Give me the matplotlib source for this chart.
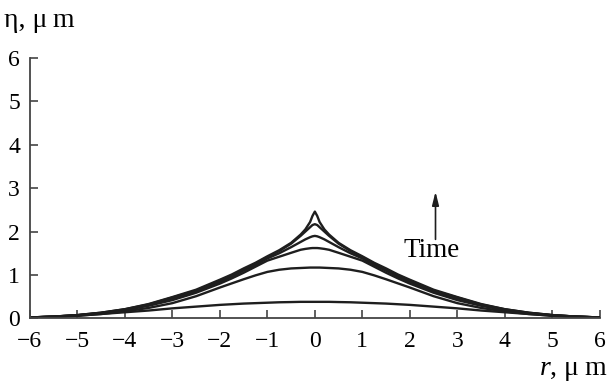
import matplotlib.pyplot as plt
import numpy as np

plt.rcParams["font.family"] = ["Liberation Serif", "DejaVu Serif"]
plt.rcParams["mathtext.fontset"] = "custom"
plt.rcParams["mathtext.rm"] = "Liberation Serif"
plt.rcParams["mathtext.it"] = "Liberation Serif:italic"

# half profiles eta(r) for r >= 0, the surface is axisymmetric
r_half = [0, 0.05, 0.1, 0.2, 0.3, 0.5, 0.75, 1, 1.25, 1.5, 1.75, 2, 2.5, 3, 3.5, 4, 4.5, 5, 5.5, 6]
eta_1 = [0.38, 0.38, 0.38, 0.38, 0.38, 0.375, 0.37, 0.36, 0.35, 0.34, 0.325, 0.31, 0.27, 0.23, 0.18, 0.14, 0.10, 0.06, 0.035, 0.02]
eta_2 = [1.17, 1.17, 1.17, 1.165, 1.16, 1.15, 1.12, 1.07, 0.99, 0.90, 0.805, 0.71, 0.51, 0.35, 0.24, 0.16, 0.10, 0.06, 0.035, 0.02]
eta_3 = [1.62, 1.62, 1.615, 1.60, 1.58, 1.51, 1.42, 1.33, 1.19, 1.05, 0.92, 0.80, 0.59, 0.42, 0.29, 0.19, 0.12, 0.07, 0.04, 0.02]
eta_4 = [1.90, 1.89, 1.87, 1.82, 1.76, 1.64, 1.50, 1.38, 1.23, 1.10, 0.96, 0.84, 0.62, 0.46, 0.31, 0.20, 0.12, 0.07, 0.04, 0.02]
eta_5 = [2.17, 2.15, 2.10, 2.00, 1.90, 1.72, 1.55, 1.41, 1.26, 1.13, 0.99, 0.87, 0.64, 0.48, 0.32, 0.21, 0.13, 0.075, 0.04, 0.02]
eta_6 = [2.46, 2.36, 2.22, 2.05, 1.93, 1.74, 1.57, 1.43, 1.28, 1.15, 1.01, 0.89, 0.66, 0.49, 0.33, 0.21, 0.13, 0.075, 0.04, 0.02]
profiles = [eta_1, eta_2, eta_3, eta_4, eta_5, eta_6]

x_ticks = [-6, -5, -4, -3, -2, -1, 0, 1, 2, 3, 4, 5, 6]
y_ticks = [0, 1, 2, 3, 4, 5, 6]


def mirror(r, eta):
    r = np.asarray(r)
    eta = np.asarray(eta)
    return np.concatenate([-r[:0:-1], r]), np.concatenate([eta[:0:-1], eta])


fig = plt.figure(figsize=(6.09, 3.84), dpi=100)
ax = fig.add_axes([0.049, 0.171, 0.936, 0.678])

for eta in profiles:
    rr, ee = mirror(r_half, eta)
    ax.plot(rr, ee, color="#1e1e1e", lw=1.7, solid_joinstyle="round")

ax.set_xlim(-6, 6)
ax.set_ylim(0, 6)
ax.set_xticks(x_ticks)
ax.set_xticklabels([str(t).replace("-", "\u2212") for t in x_ticks])
ax.set_yticks(y_ticks)
ax.tick_params(direction="in", length=6, width=1.2, color="#444444",
               labelsize=17)
ax.tick_params(axis="y", pad=7)
ax.tick_params(axis="x", pad=9)

for side in ["top", "right"]:
    ax.spines[side].set_visible(False)
for side in ["left", "bottom"]:
    ax.spines[side].set_color("#444444")
    ax.spines[side].set_linewidth(1.3)

# time direction
ax.annotate("", xy=(2.54, 2.92), xytext=(2.54, 1.82),
            arrowprops=dict(arrowstyle="-|>,head_length=0.8,head_width=0.2",
                            color="#1e1e1e", lw=1.2, shrinkA=0, shrinkB=0))
ax.text(2.45, 1.57, "Time", fontsize=19.5, ha="center", va="center")

fig.text(0.006, 0.93, "\u03b7, \u03bc\u2009m", fontsize=20, ha="left", va="baseline")
fig.text(0.997, 0.024, "$r$, \u03bc\u2009m", fontsize=20, ha="right", va="baseline")

fig.savefig("out.png", dpi=100)
